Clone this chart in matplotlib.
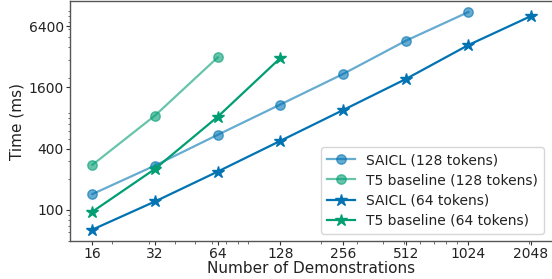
import matplotlib
matplotlib.use('Agg')
import matplotlib.pyplot as plt
from matplotlib.ticker import FixedLocator, NullFormatter

# number of demonstrations vs. time (ms)
n_saicl_128 = [16, 32, 64, 128, 256, 512, 1024]
t_saicl_128 = [143, 273, 547, 1086, 2165, 4590, 8800]
n_t5_128 = [16, 32, 64]
t_t5_128 = [277, 846, 3150]
n_saicl_64 = [16, 32, 64, 128, 256, 512, 1024, 2048]
t_saicl_64 = [64, 121, 238, 477, 957, 1930, 4170, 8040]
n_t5_64 = [16, 32, 64, 128]
t_t5_64 = [96, 253, 822, 3110]

xticks = [16, 32, 64, 128, 256, 512, 1024, 2048]
yticks = [100, 400, 1600, 6400]

blue = '#0173b2'
green = '#029e73'

fig = plt.figure(figsize=(5.52, 2.79), dpi=100)
ax = fig.add_axes([70 / 552, 38 / 279, 483 / 552, 240 / 279])

ax.plot(n_saicl_128, t_saicl_128, marker='o', color=blue, alpha=0.6,
        lw=1.6, ms=6.8, label='SAICL (128 tokens)')
ax.plot(n_t5_128, t_t5_128, marker='o', color=green, alpha=0.6,
        lw=1.6, ms=6.8, label='T5 baseline (128 tokens)')
ax.plot(n_saicl_64, t_saicl_64, marker='*', color=blue,
        lw=1.6, ms=9, label='SAICL (64 tokens)')
ax.plot(n_t5_64, t_t5_64, marker='*', color=green,
        lw=1.6, ms=9, label='T5 baseline (64 tokens)')

ax.set_xscale('log')
ax.set_yscale('log')
ax.set_xlim(12.5, 2611)
ax.set_ylim(49.5, 11300)
ax.xaxis.set_major_locator(FixedLocator(xticks))
ax.set_xticklabels([str(v) for v in xticks])
ax.xaxis.set_minor_formatter(NullFormatter())
ax.yaxis.set_major_locator(FixedLocator(yticks))
ax.set_yticklabels([str(v) for v in yticks])
ax.yaxis.set_minor_formatter(NullFormatter())

ax.tick_params(axis='both', which='major', labelsize=10, colors='#333333',
               labelcolor='#222222', length=3, pad=1.5)
ax.tick_params(axis='both', which='minor', length=1.8, colors='#555555')
for s in ax.spines.values():
    s.set_color('#555555')
    s.set_linewidth(1.0)

ax.set_xlabel('Number of Demonstrations', fontsize=11, color='#222222', labelpad=0)
ax.set_ylabel('Time (ms)', fontsize=11, color='#222222', labelpad=3)

# legend box ends at x=546 px like the reference
leg = ax.legend(loc='lower right', fontsize=10, handlelength=2.0, borderpad=0.45,
                labelspacing=0.45, handletextpad=0.8,
                bbox_to_anchor=((551 - 70) / 483, 0), borderaxespad=0.5)
for t in leg.get_texts():
    t.set_color('#222222')

fig.savefig('out.png', dpi=100)
